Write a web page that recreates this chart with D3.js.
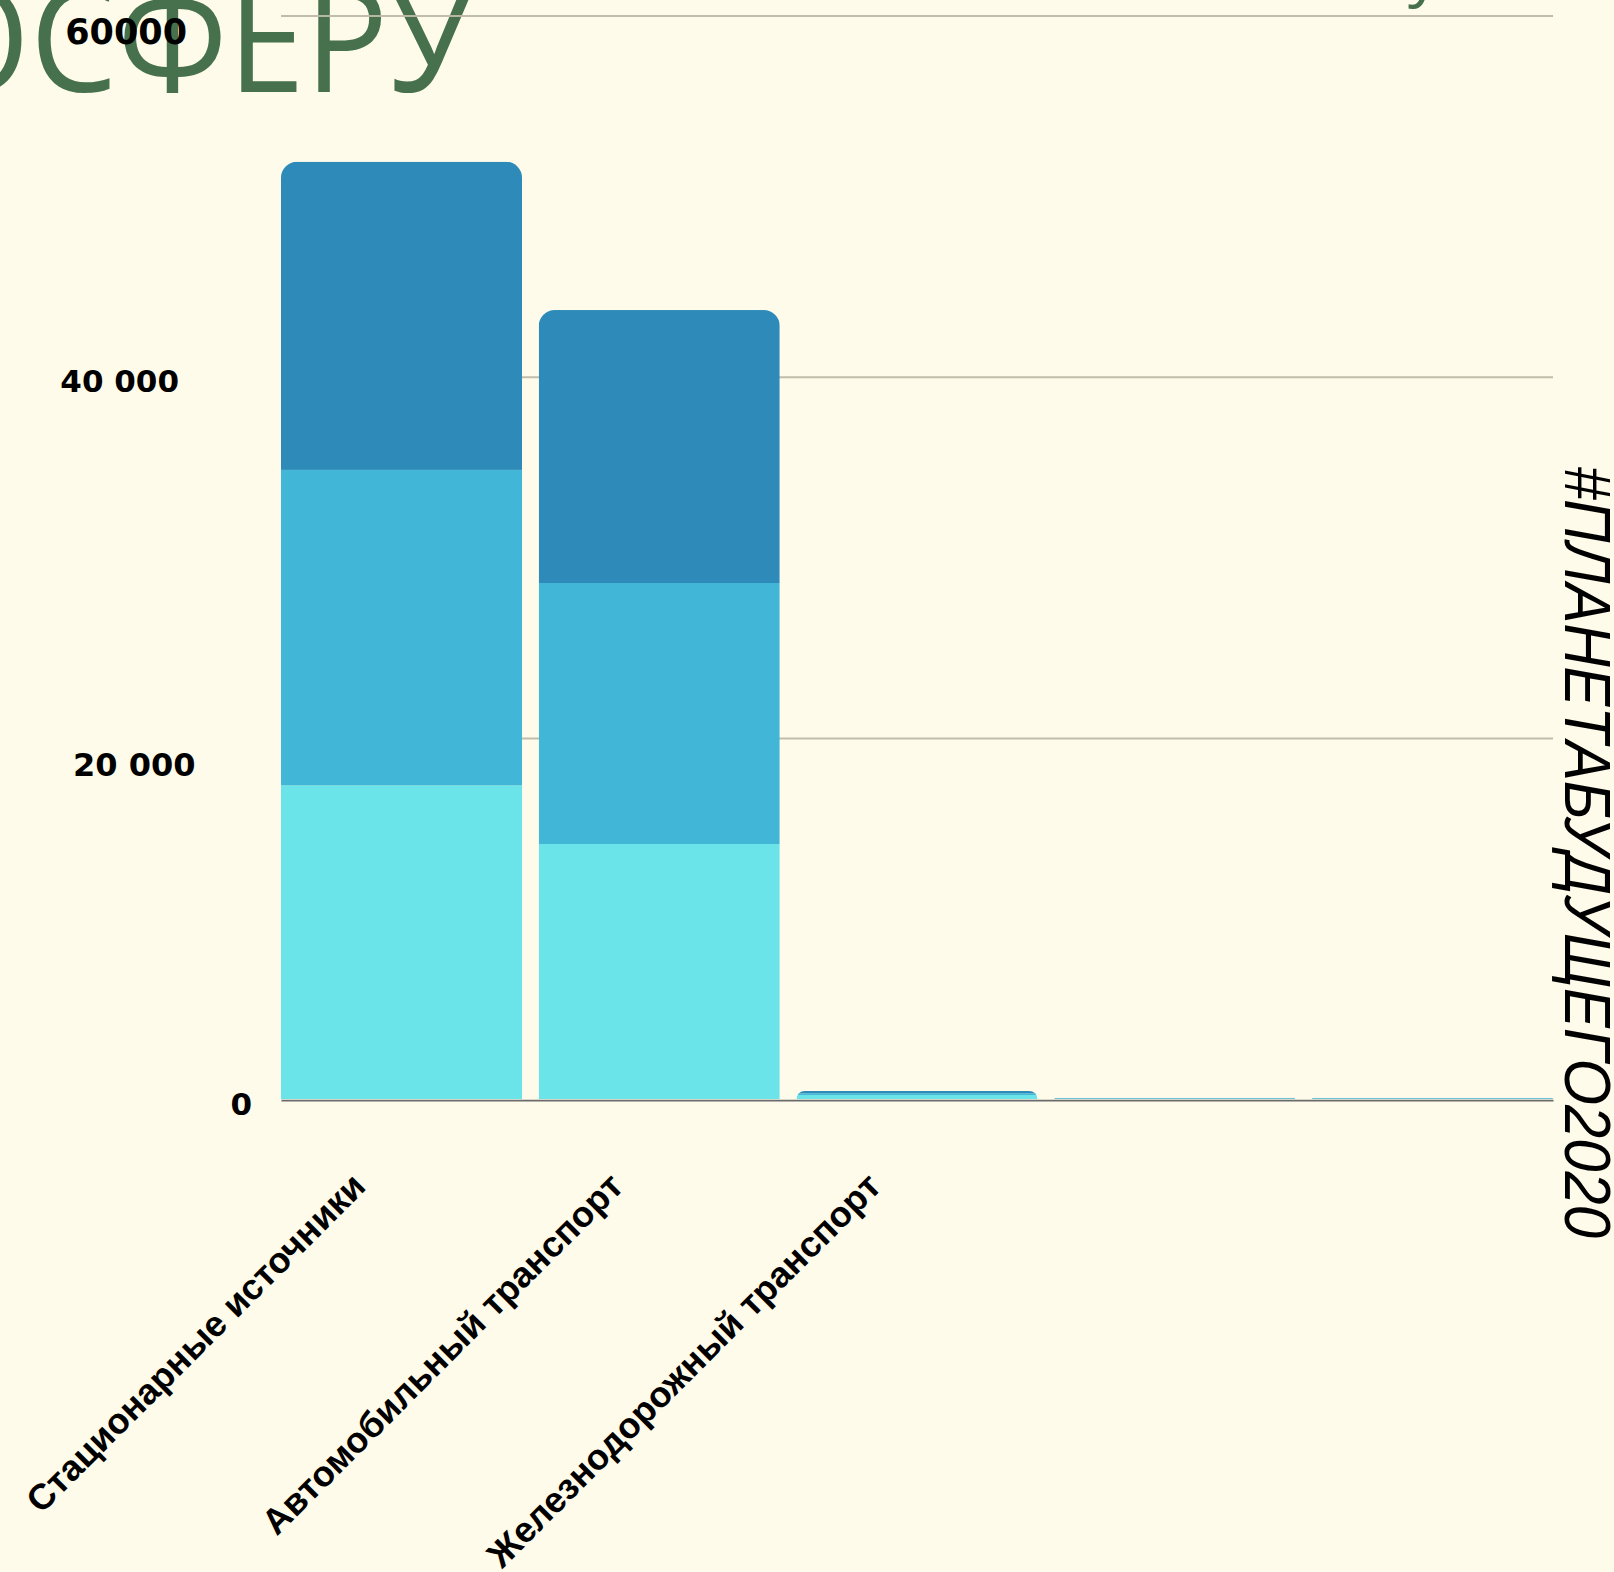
<!DOCTYPE html>
<html>
<head>
<meta charset="utf-8">
<script src="https://cdn.jsdelivr.net/npm/d3@7"></script>
<style>
  html, body { margin: 0; padding: 0; background: #FEFBEA; }
  svg { display: block; }
</style>
</head>
<body>
<script>
// ---------- DATA ----------
const categories = ["Стационарные источники", "Автомобильный транспорт", "Железнодорожный транспорт", "", ""];
const layer1Values = [17380, 14130, 240, 30, 30];   // bottom (light cyan)
const layer2Values = [17460, 14450, 95, 35, 35];    // middle (blue)
const layer3Values = [17060, 15110, 130, 15, 15];   // top (dark blue)
const tickValues = [0, 20000, 40000, 60000];
const tickLabels = ["0", "20 000", "40 000", "60000"];
const titleText = "ОСФЕРУ";
const sideText = "#ПЛАНЕТАБУДУЩЕГО2020";

// ---------- STYLE ----------
const W = 1614, H = 1572;
const layerColors = ["#6AE4E8", "#42B6D6", "#2E8BB9"];
const tickDx = [-29, -85.5, -102, -94];
const tickDy = [15.3, 37.4, 14.6, 28.4];
const tickFont = [31, 32, 31, 35];

const svg = d3.select("body").append("svg").attr("width", W).attr("height", H);
svg.append("rect").attr("width", W).attr("height", H).attr("fill", "#FEFBEA");

const x = d3.scaleBand().domain(d3.range(categories.length)).range([281, 1553]).paddingInner(0.065).paddingOuter(0);
const y = d3.scaleLinear().domain([0, 60000]).range([1099.3, 15.4]);

// Title (partially off-canvas)
svg.append("text")
  .attr("x", -78).attr("y", 92)
  .attr("font-family", "'Open Sans', Lato, Roboto, sans-serif")
  .attr("font-weight", 400)
  .attr("font-size", 146)
  .attr("fill", "#47714C")
  .attr("textLength", 552)
  .attr("lengthAdjust", "spacingAndGlyphs")
  .text(titleText);

// tiny descender fragment at top right
svg.append("text")
  .attr("x", 1408).attr("y", -6)
  .attr("font-family", "'Open Sans', Lato, Roboto, sans-serif")
  .attr("font-weight", 400)
  .attr("font-size", 64)
  .attr("fill", "#47714C")
  .text("у");

// Gridlines
const grid = svg.append("g").attr("transform", "translate(281,0)")
  .call(d3.axisLeft(y).tickValues(tickValues.filter(d => d > 0)).tickSize(-(1553 - 281)).tickFormat(""));
grid.select(".domain").remove();
grid.selectAll(".tick line").attr("stroke", "#BDB9A8").attr("stroke-width", 2).attr("opacity", 0.95);

// Stack
const rows = categories.map((c, i) => ({ i, a: layer1Values[i], b: layer2Values[i], c: layer3Values[i] }));
const stack = d3.stack().keys(["a", "b", "c"])(rows);

const defs = svg.append("defs");
rows.forEach((r, i) => {
  const total = r.a + r.b + r.c;
  const x0 = x(i), x1 = x(i) + x.bandwidth();
  const top = y(total), bottom = y(0);
  const rr = Math.min(16, bottom - top, x.bandwidth() / 2);
  const p = d3.path();
  p.moveTo(x0, bottom);
  p.lineTo(x0, top + rr);
  p.arcTo(x0, top, x0 + rr, top, rr);
  p.lineTo(x1 - rr, top);
  p.arcTo(x1, top, x1, top + rr, rr);
  p.lineTo(x1, bottom);
  p.closePath();
  defs.append("clipPath").attr("id", "barclip" + i).append("path").attr("d", p.toString());
});

const bars = svg.append("g");
rows.forEach((r, i) => {
  const g = bars.append("g").attr("clip-path", `url(#barclip${i})`);
  stack.forEach((layer, li) => {
    const d = layer[i];
    g.append("rect")
      .attr("x", x(i))
      .attr("width", x.bandwidth())
      .attr("y", y(d[1]))
      .attr("height", Math.max(0, y(d[0]) - y(d[1])))
      .attr("fill", layerColors[li]);
  });
});

// X axis
const xAxis = svg.append("g").attr("transform", `translate(0,${y(0)})`)
  .call(d3.axisBottom(x).tickFormat(i => categories[i]).tickSize(0).tickSizeOuter(0));
xAxis.select(".domain").attr("stroke", "#6B6B6B").attr("stroke-width", 1.6).attr("transform", "translate(0,0.8)");
xAxis.selectAll(".tick text")
  .attr("x", 0).attr("y", 0).attr("dy", null)
  .attr("transform", "translate(-34,89) rotate(-45)")
  .attr("text-anchor", "end")
  .attr("font-family", "'Liberation Sans', Arial, sans-serif")
  .attr("font-weight", "bold")
  .attr("font-size", 36)
  .attr("fill", "#000");

// Y axis labels
const yAxis = svg.append("g").attr("transform", "translate(281,0)")
  .call(d3.axisLeft(y).tickValues(tickValues).tickFormat((d, i) => tickLabels[i]).tickSize(0).tickPadding(0));
yAxis.select(".domain").remove();
yAxis.selectAll(".tick text")
  .attr("dy", null)
  .attr("x", (d, i) => tickDx[i])
  .attr("y", (d, i) => tickDy[i])
  .attr("text-anchor", "end")
  .attr("font-family", "'DejaVu Sans', Verdana, sans-serif")
  .attr("font-weight", "bold")
  .attr("font-size", (d, i) => tickFont[i])
  .attr("fill", "#000");

// Side vertical hashtag
svg.append("text")
  .attr("transform", "translate(1564.5,466) rotate(90)")
  .attr("font-family", "'Liberation Sans Narrow', 'Liberation Sans', Arial, sans-serif")
  .attr("font-style", "italic")
  .attr("font-size", 64)
  .attr("fill", "#000")
  .attr("textLength", 772)
  .attr("lengthAdjust", "spacingAndGlyphs")
  .text(sideText);
</script>
</body>
</html>
